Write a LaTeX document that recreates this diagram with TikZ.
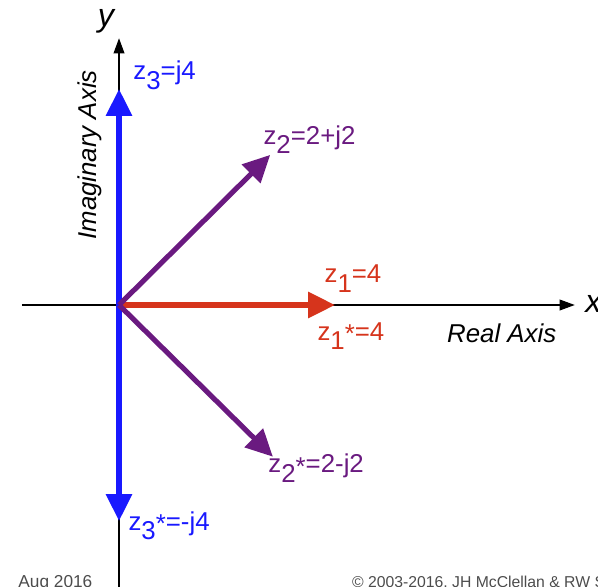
\documentclass[tikz,border=0pt]{standalone}
\usepackage{fontspec}
\setmainfont{Liberation Sans}
\usepackage{tikz}
\usetikzlibrary{arrows.meta}
\definecolor{zblue}{RGB}{25,25,255}
\definecolor{zpurple}{RGB}{106,26,128}
\definecolor{zred}{RGB}{214,52,28}
\newcommand{\zsub}[1]{\raisebox{-0.38em}{#1}}
\newcommand{\zconj}{\raisebox{-0.08em}{*}}
\tikzset{
  axisline/.style={line width=0.6pt, -{Triangle[length=0.28cm,width=0.2cm]}},
  vec/.style={line width=2.7pt, -{Triangle[length=0.5cm,width=0.47cm]}},
  lbl/.style={font=\fontsize{13.6}{16}\selectfont, inner sep=0pt, anchor=base west},
  axlbl/.style={font=\fontsize{17}{20}\selectfont\itshape, inner sep=0pt, anchor=base west},
  axname/.style={font=\fontsize{13.6}{16}\selectfont\itshape, inner sep=0pt},
  foot/.style={font=\fontsize{9.1}{11}\selectfont, text=black!70, inner sep=0pt, anchor=base west}
}

\begin{document}
\begin{tikzpicture}

\useasboundingbox (-2.204,-5.204) rectangle (8.870,5.648);
\clip (-2.204,-5.204) rectangle (8.870,5.648);

% Points
\coordinate (O)   at (0,0);
\coordinate (xl)  at (-1.80,0);
\coordinate (xr)  at (8.44,0);
\coordinate (yb)  at (0,-5.40);
\coordinate (yt)  at (0,4.94);
\coordinate (z1)  at (4,0);
\coordinate (z2)  at (2.80,2.78);
\coordinate (z2c) at (2.85,-2.81);
\coordinate (z3)  at (0,4.0);
\coordinate (z3c) at (0,-4.0);

% Axes
\draw[axisline] (xl) -- (xr);
\draw[axisline] (yb) -- (yt);
\node[axlbl] (xlab) at (8.63,-0.13) {x};
\node[axlbl] (ylab) at (-0.40,5.15) {y};
\node[axname, anchor=west] (re) at (6.07,-0.53) {Real Axis};
\node[axname, anchor=base, rotate=90] (im) at (-0.415,2.78) {Imaginary Axis};

% Vectors
\draw[vec, zblue]   (O) -- (z3);
\draw[vec, zblue]   (O) -- (z3c);
\draw[vec, zred]    (O) -- (z1);
\draw[vec, zpurple] (O) -- (z2);
\draw[vec, zpurple] (O) -- (z2c);

% Labels
\node[lbl, text=zblue]   (l3)  at (0.26,4.17)   {z\zsub{3}=j4};
\node[lbl, text=zblue]   (l3c) at (0.17,-4.17)  {z\zsub{3}\zconj=-j4};
\node[lbl, text=zred]    (l1)  at (3.80,0.41)   {z\zsub{1}=4};
\node[lbl, text=zred]    (l1c) at (3.67,-0.65)  {z\zsub{1}\zconj=4};
\node[lbl, text=zpurple] (l2)  at (2.67,2.98)   {z\zsub{2}=2+j2};
\node[lbl, text=zpurple] (l2c) at (2.76,-3.11)  {z\zsub{2}\zconj=2-j2};

% Footer
\node[foot] (date) at (-1.87,-5.23) {Aug 2016};
\node[foot, font=\fontsize{8.3}{10}\selectfont] (copy) at (4.31,-5.23) {© 2003-2016, JH McClellan \& RW Sc};

\end{tikzpicture}
\end{document}
